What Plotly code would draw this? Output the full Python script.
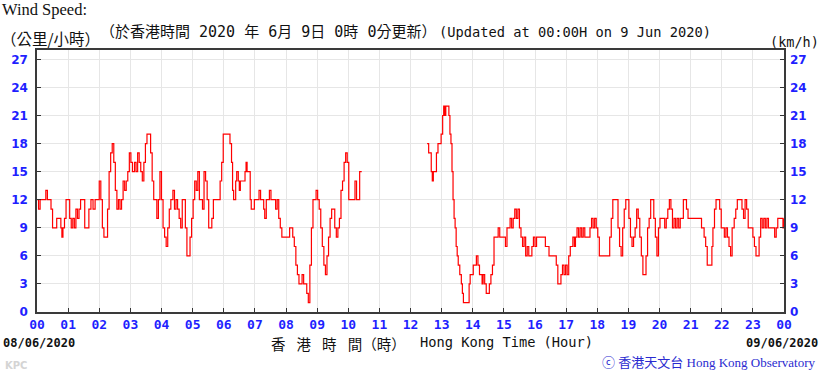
import plotly.graph_objects as go

# ---- data (minutes after 00:00 HKT on 08/06/2020, wind speed km/h) ----
seg1_minutes = [0, 3, 6, 10, 14, 17, 20, 24, 27, 30, 35, 38, 42, 46, 48, 50, 53, 56, 60, 63, 66, 69, 72, 75, 78, 81, 84, 88, 92, 96,
                100, 104, 108, 112, 116, 120, 123, 126, 129, 133, 136, 139, 142, 145, 148, 151, 154, 157, 160, 163, 166, 169, 172,
                175, 178, 181, 184, 188, 191, 194, 197, 200, 203, 206, 209, 212, 216, 219, 222, 225, 228, 231, 234, 237, 240, 243,
                246, 249, 252, 255, 258, 262, 265, 268, 271, 274, 277, 280, 283, 286, 289, 292, 295, 298, 301, 304, 307, 310, 313,
                316, 319, 322, 325, 328, 331, 334, 337, 340, 345, 350, 353, 356, 359, 362,
                365, 368, 372, 375, 377, 379, 381, 383, 385, 388, 390, 392, 395, 398, 401, 403, 405, 408, 411, 413, 416, 419, 422,
                425, 428, 431, 434, 437, 439, 442, 445, 448, 451, 454, 457, 460, 463, 466, 469, 472, 476, 480, 484, 487, 490, 493,
                496, 499, 502, 505, 508, 511, 514, 517, 520, 523, 526, 529, 532, 535, 538, 541, 544, 547, 550, 553, 556, 559, 562,
                565, 568, 571, 574, 577, 580, 583, 586, 589, 592, 595, 598, 601, 604, 607, 610, 613, 616, 619, 622, 626]
seg1_kmh = [12, 11, 12, 12, 12, 13, 12, 12, 11, 9, 9, 10, 10, 9, 8, 9, 10, 12, 12, 10, 9, 10, 9, 11, 10, 11, 12, 12, 9, 9,
            11, 12, 11, 12, 12, 14, 12, 9, 8, 8, 11, 15, 17, 18, 16, 13, 11, 12, 11, 12, 14, 13, 14,
            15, 17, 16, 15, 16, 15, 17, 16, 15, 14, 16, 18, 19, 19, 17, 14, 12, 12, 10, 12, 15, 12, 9,
            8, 7, 9, 11, 12, 13, 11, 12, 11, 10, 9, 12, 12, 9, 6, 6, 8, 10, 12, 14, 13, 15, 12,
            12, 11, 15, 14, 12, 9, 9, 10, 12, 12, 12, 14, 16, 19, 19,
            19, 19, 18, 16, 13, 12, 12, 14, 15, 14, 13, 14, 14, 14, 15, 16, 15, 15, 12, 11, 11, 12, 12,
            12, 13, 12, 12, 11, 10, 12, 12, 13, 12, 12, 12, 11, 12, 10, 9, 8, 8, 8, 8, 9, 9, 8,
            7, 5, 4, 3, 3, 4, 3, 3, 2, 1, 5, 9, 12, 12, 13, 12, 11, 9, 7, 5, 4, 6, 8,
            10, 11, 11, 9, 8, 9, 10, 13, 14, 16, 17, 16, 12, 12, 12, 12, 14, 12, 12, 15, 15]

seg2_minutes = [752, 755, 758, 760, 762, 764, 767, 770, 773, 776, 779, 782, 784, 786, 788, 790, 792, 794, 796, 798, 800, 802,
                804, 806, 808, 810, 812, 815, 818, 820, 822, 825, 828, 831, 833, 835, 838, 841, 844, 847, 850, 853, 856, 858,
                860, 863, 866, 869, 872, 875, 878, 881, 884, 887, 889, 892, 896, 900, 903, 906, 909, 912, 915, 918, 921, 924,
                927, 930, 933, 936, 939, 942, 945, 948, 951, 954, 957, 960, 963, 966]
seg2_kmh = [18, 17, 17, 15, 14, 15, 15, 17, 18, 18, 19, 21, 22, 21, 22, 22, 22, 21, 19, 18, 15, 12,
            10, 9, 7, 6, 5, 4, 3, 2, 1, 1, 1, 1, 3, 4, 4, 5, 5, 6, 5, 4, 4, 3,
            4, 3, 2, 2, 3, 4, 5, 8, 8, 8, 9, 8, 8, 8, 7, 9, 9, 10, 9, 10, 11, 10,
            11, 9, 8, 7, 8, 6, 7, 6, 6, 7, 8, 7, 8, 8]

seg3_minutes = [969, 975, 980, 983, 987, 992, 997, 1001, 1004, 1007, 1010, 1013, 1016, 1019, 1022, 1025, 1028, 1031, 1033,
                1036, 1038, 1041, 1044, 1047, 1050, 1053, 1056, 1060, 1063, 1066, 1069, 1072, 1075, 1078, 1081, 1084, 1090,
                1095, 1100, 1104, 1107, 1110, 1114, 1118, 1120, 1123, 1126, 1129, 1132, 1135, 1138, 1141, 1144, 1147, 1150,
                1153, 1156, 1159, 1162, 1165, 1168, 1171, 1174, 1177, 1180, 1183, 1186, 1189, 1192, 1195, 1198, 1201, 1204,
                1207, 1210, 1213, 1216, 1219, 1222, 1225, 1228, 1231, 1234, 1237, 1240, 1243, 1246, 1249, 1252, 1255, 1258,
                1264, 1270, 1276, 1281, 1286, 1289, 1292, 1295, 1298, 1301, 1303, 1306, 1309, 1313, 1316, 1319, 1322, 1325,
                1328, 1331, 1334, 1337, 1340, 1344, 1347, 1350, 1353, 1356, 1359, 1362, 1365, 1368, 1371, 1374, 1377, 1380,
                1383, 1386, 1389, 1392, 1395, 1398, 1401, 1404, 1407, 1410, 1414, 1418, 1422, 1425, 1428, 1432, 1435, 1438, 1440]
seg3_kmh = [8, 8, 7, 7, 6, 6, 6, 5, 3, 3, 4, 5, 4, 5, 4, 6, 7, 7, 8,
            7, 8, 9, 8, 9, 8, 9, 8, 8, 8, 9, 10, 9, 10, 9, 8, 6, 6,
            6, 6, 8, 10, 12, 12, 12, 9, 7, 6, 9, 11, 12, 12, 10, 8, 7, 8,
            9, 11, 10, 8, 6, 4, 4, 6, 9, 10, 12, 12, 10, 8, 6, 9, 10, 10,
            10, 9, 10, 11, 12, 11, 9, 10, 9, 10, 9, 10, 10, 12, 12, 11, 10, 10,
            10, 10, 10, 9, 8, 7, 5, 5, 5, 7, 9, 11, 12, 12, 11, 9, 9, 8,
            9, 8, 7, 6, 9, 10, 11, 12, 12, 12, 11, 10, 12, 11, 9, 9, 9, 8,
            7, 6, 6, 8, 10, 9, 10, 9, 10, 9, 9, 9, 8, 9, 10, 10, 10, 9, 10]

hour_ticks = list(range(0, 25))
hour_labels = ["00", "01", "02", "03", "04", "05", "06", "07", "08", "09", "10", "11", "12",
               "13", "14", "15", "16", "17", "18", "19", "20", "21", "22", "23", "00"]
speed_ticks = [0, 3, 6, 9, 12, 15, 18, 21, 24, 27]

# ---- build series (None breaks the line where data are missing) ----
x_hours = [m / 60 for m in seg1_minutes] + [None] + [m / 60 for m in seg2_minutes + seg3_minutes]
y_vals = seg1_kmh + [None] + seg2_kmh + seg3_kmh

BLUE = "#1f1fff"
fig = go.Figure()
fig.add_trace(go.Scatter(x=x_hours, y=y_vals, mode="lines", line=dict(color="#ff0000", width=1.2, shape="hv"),
                         connectgaps=False, hoverinfo="skip", showlegend=False))
fig.add_trace(go.Scatter(x=x_hours, y=y_vals, mode="lines", line=dict(color="rgba(0,0,0,0)", width=0),
                         yaxis="y2", hoverinfo="skip", showlegend=False))

L, R, T, B = 37, 36, 50, 60
W, H = 820, 372
pw, ph = W - L - R, H - T - B

def px(x):
    return (x - L) / pw

def py(y):
    return (H - B - y) / ph

axis_common = dict(showline=True, linecolor="#3a3a3a", linewidth=1.5, ticks="inside", ticklen=4,
                   tickcolor="#333", tickwidth=1)

fig.update_layout(
    width=W, height=H, margin=dict(l=L, r=R, t=T, b=B, autoexpand=False),
    paper_bgcolor="white", plot_bgcolor="white",
    xaxis=dict(range=[0, 24], tickvals=hour_ticks, ticktext=hour_labels, showgrid=True, gridcolor="#e6e6e6",
               gridwidth=1, mirror=True, zeroline=False,
               tickfont=dict(family="DejaVu Sans Mono", size=13, color=BLUE, weight="bold"),
               **axis_common),
    yaxis=dict(range=[0, 28], tickvals=speed_ticks, showgrid=True, gridcolor="#e6e6e6", gridwidth=1,
               mirror=True, zeroline=False, ticklabelstandoff=5,
               tickfont=dict(family="DejaVu Sans", size=12, color=BLUE, weight="bold"),
               **axis_common),
    yaxis2=dict(range=[0, 28], tickvals=speed_ticks, overlaying="y", side="right", showgrid=False,
                zeroline=False, showline=False, ticks="inside", ticklen=4, tickcolor="#333",
                ticklabelstandoff=5,
                tickfont=dict(family="DejaVu Sans", size=12, color=BLUE, weight="bold")),
)

SP = "\u2002\u2009\u200a"
ann = [
    dict(text="Wind Speed:", x=px(0), y=py(10), xanchor="left", yanchor="middle",
         font=dict(family="Liberation Serif", size=16.5, color="#111")),
    dict(text="（公里/小時）", x=px(-1), y=py(38), xanchor="left", yanchor="middle",
         font=dict(family="Noto Sans CJK TC", size=15.5, color="#111")),
    dict(text="（於香港時間 2020 年 6月 9日 0時 0分更新）", x=px(98), y=py(32), xanchor="left", yanchor="middle",
         font=dict(family="DejaVu Sans Mono, Noto Sans CJK TC", size=15, color="#111")),
    dict(text="(Updated at 00:00H on 9 Jun 2020)", x=px(437), y=py(32), xanchor="left", yanchor="middle",
         font=dict(family="DejaVu Sans Mono", size=13.7, color="#111")),
    dict(text="(km/h)", x=px(821), y=py(42), xanchor="right", yanchor="middle",
         font=dict(family="DejaVu Sans Mono", size=13.5, color="#111")),
    dict(text="08/06/2020", x=px(1), y=py(343), xanchor="left", yanchor="middle",
         font=dict(family="DejaVu Sans Mono", size=12, color="#111", weight="bold")),
    dict(text="09/06/2020", x=px(820), y=py(343), xanchor="right", yanchor="middle",
         font=dict(family="DejaVu Sans Mono", size=12, color="#111", weight="bold")),
    dict(text="香" + SP + "港" + SP + "時" + SP + "間" + "（時）", x=px(408), y=py(343), xanchor="right",
         yanchor="middle", font=dict(family="Noto Sans CJK TC", size=14.5, color="#111")),
    dict(text="Hong Kong Time (Hour)", x=px(418), y=py(342), xanchor="left", yanchor="middle",
         font=dict(family="DejaVu Sans Mono", size=13.7, color="#111")),
    dict(text="ⓒ 香港天文台 Hong Kong Observatory", x=px(818), y=py(362), xanchor="right", yanchor="middle",
         font=dict(family="Liberation Serif, Noto Sans CJK TC", size=13, color="#2a2ad0")),
    dict(text="KPC", x=px(3), y=py(365), xanchor="left", yanchor="middle",
         font=dict(family="DejaVu Sans", size=10, color="#d4d4d4", weight="bold")),
]
for a in ann:
    a.update(xref="paper", yref="paper", showarrow=False)
fig.update_layout(annotations=ann)

fig.write_html("out.html", config={"displayModeBar": False},
               post_script="document.body.style.margin='0';document.body.style.overflow='hidden';")
